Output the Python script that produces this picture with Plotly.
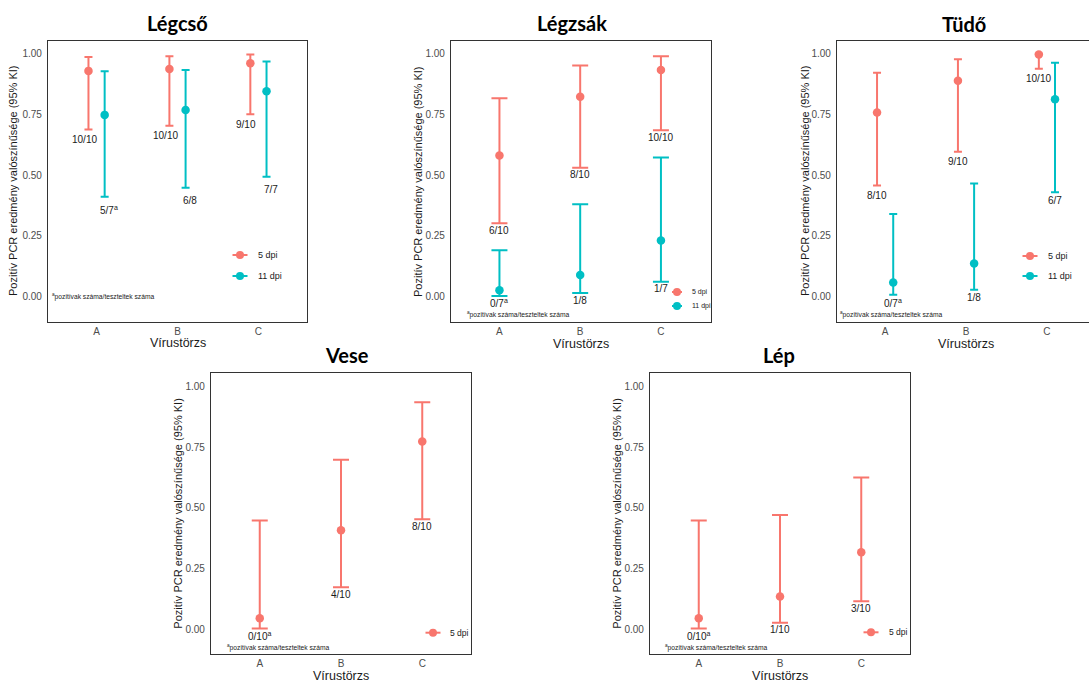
import plotly.graph_objects as go

# ---------------- data ----------------
categories = ["A", "B", "C"]
series_names = ["5 dpi", "11 dpi"]
y_ticks = [0.0, 0.25, 0.5, 0.75, 1.0]
y_title = "Pozitív PCR eredmény valószínűsége (95% KI)"
x_title = "Vírustörzs"
footnote = "<sup>a</sup>pozitívak száma/teszteltek száma"

legcso_5_est = [0.929, 0.937, 0.960]
legcso_5_lo = [0.688, 0.703, 0.751]
legcso_5_hi = [0.986, 0.989, 0.996]
legcso_5_lab = ["10/10", "10/10", "9/10"]
legcso_11_est = [0.748, 0.768, 0.845]
legcso_11_lo = [0.411, 0.448, 0.493]
legcso_11_hi = [0.927, 0.933, 0.968]
legcso_11_lab = ["5/7<sup>a</sup>", "6/8", "7/7"]

legzsak_5_est = [0.581, 0.823, 0.933]
legzsak_5_lo = [0.302, 0.530, 0.685]
legzsak_5_hi = [0.816, 0.951, 0.989]
legzsak_5_lab = ["6/10", "8/10", "10/10"]
legzsak_11_est = [0.027, 0.089, 0.231]
legzsak_11_lo = [0.003, 0.015, 0.062]
legzsak_11_hi = [0.191, 0.380, 0.573]
legzsak_11_lab = ["0/7<sup>a</sup>", "1/8", "1/7"]

tudo_5_est = [0.758, 0.888, 0.996]
tudo_5_lo = [0.458, 0.596, 0.938]
tudo_5_hi = [0.921, 0.977, 1.000]
tudo_5_lab = ["8/10", "9/10", "10/10"]
tudo_11_est = [0.058, 0.137, 0.812]
tudo_11_lo = [0.008, 0.029, 0.430]
tudo_11_hi = [0.340, 0.466, 0.962]
tudo_11_lab = ["0/7<sup>a</sup>", "1/8", "6/7"]

vese_5_est = [0.045, 0.408, 0.773]
vese_5_lo = [0.003, 0.173, 0.453]
vese_5_hi = [0.448, 0.698, 0.935]
vese_5_lab = ["0/10<sup>a</sup>", "4/10", "8/10"]

lep_5_est = [0.045, 0.135, 0.317]
lep_5_lo = [0.003, 0.027, 0.115]
lep_5_hi = [0.448, 0.470, 0.625]
lep_5_lab = ["0/10<sup>a</sup>", "1/10", "3/10"]

# ---------------- styling / layout ----------------
W, H = 1089, 683
COLORS = {"5 dpi": "#F8766D", "11 dpi": "#00BFC4"}
FONT = "Liberation Sans, Arial, sans-serif"
TITLE_FONT = "Lato, Open Sans, sans-serif"


def px(x):
    return x / W


def py(y):
    return 1 - y / H


panels = [
    dict(title="Légcső", frame=(48, 307, 40.5, 321.5), xr=[0.4, 3.6], title_xy=(177, 23),
         dodge=0.1, lab_dodge=0.15, cap=4,
         series=[("5 dpi", legcso_5_est, legcso_5_lo, legcso_5_hi, legcso_5_lab, 10),
                 ("11 dpi", legcso_11_est, legcso_11_lo, legcso_11_hi, legcso_11_lab, 13)],
         legend=dict(cx=240, ys=[255, 276], tx=256, size=9, half=7.5, r=4),
         foot=(50, 297), ytx=13, xt_xy=(178, 343.5)),
    dict(title="Légzsák", frame=(451, 711, 40.5, 321.5), xr=[0.4, 3.62], title_xy=(572, 23),
         dodge=0.0, lab_dodge=0.0, cap=8,
         series=[("5 dpi", legzsak_5_est, legzsak_5_lo, legzsak_5_hi, legzsak_5_lab, 7),
                 ("11 dpi", legzsak_11_est, legzsak_11_lo, legzsak_11_hi, legzsak_11_lab, 7)],
         legend=dict(cx=677, ys=[292, 306], tx=690, size=7, half=5, r=4),
         foot=(465, 314), ytx=418, xt_xy=(581, 344)),
    dict(title="Tüdő", frame=(837, 1089, 40.5, 321.5), xr=[0.405, 3.52], title_xy=(964, 24),
         dodge=0.1, lab_dodge=0.1, cap=4, open_right=True,
         series=[("5 dpi", tudo_5_est, tudo_5_lo, tudo_5_hi, tudo_5_lab, 10),
                 ("11 dpi", tudo_11_est, tudo_11_lo, tudo_11_hi, tudo_11_lab, 8)],
         legend=dict(cx=1030, ys=[256, 276], tx=1046, size=9, half=7.5, r=4),
         foot=(838, 314), ytx=805, xt_xy=(966, 344)),
    dict(title="Vese", frame=(211, 471, 373.3, 654), xr=[0.4, 3.6], title_xy=(347, 355),
         dodge=0.0, lab_dodge=0.0, cap=8,
         series=[("5 dpi", vese_5_est, vese_5_lo, vese_5_hi, vese_5_lab, 7)],
         legend=dict(cx=433, ys=[632.7], tx=448, size=8.5, half=7.5, r=4),
         foot=(225, 647), ytx=178, xt_xy=(341, 676)),
    dict(title="Lép", frame=(650, 910, 373.3, 654), xr=[0.4, 3.6], title_xy=(779, 355),
         dodge=0.0, lab_dodge=0.0, cap=8,
         series=[("5 dpi", lep_5_est, lep_5_lo, lep_5_hi, lep_5_lab, 7)],
         legend=dict(cx=871, ys=[632.3], tx=887, size=8.5, half=7.5, r=4),
         foot=(663, 647), ytx=617, xt_xy=(780, 676)),
]

Y_RANGE = [-0.102, 1.054]

fig = go.Figure()
annotations = []
shapes = []
layout_axes = {}

for i, p in enumerate(panels, start=1):
    xa = "x" if i == 1 else f"x{i}"
    ya = "y" if i == 1 else f"y{i}"
    l, r, t, b = p["frame"]
    n_series = len(p["series"])
    for k, (name, est, lo, hi, labs, gap) in enumerate(p["series"]):
        if n_series == 2:
            off = -p["dodge"] if k == 0 else p["dodge"]
            loff = -p["lab_dodge"] if k == 0 else p["lab_dodge"]
        else:
            off = loff = 0.0
        xs = [j + 1 + off for j in range(len(categories))]
        fig.add_trace(go.Scatter(
            x=xs, y=est, mode="markers", name=name, showlegend=False,
            marker=dict(color=COLORS[name], size=8.5, line=dict(width=0)),
            error_y=dict(type="data", symmetric=False,
                         array=[h - e for h, e in zip(hi, est)],
                         arrayminus=[e - lw for e, lw in zip(est, lo)],
                         color=COLORS[name], thickness=2, width=p["cap"]),
            xaxis=xa, yaxis=ya, hoverinfo="skip"))
        for j, lab in enumerate(labs):
            annotations.append(dict(
                x=j + 1 + loff, y=lo[j], xref=xa, yref=ya, text=lab,
                showarrow=False, yanchor="middle", xanchor="center", yshift=-gap,
                font=dict(family=FONT, size=10, color="#1a1a1a")))

    axis_common = dict(showgrid=False, zeroline=False, showline=True,
                       linecolor="#333333", linewidth=1.2,
                       tickfont=dict(family=FONT, size=10, color="#4d4d4d"))
    layout_axes["xaxis" if i == 1 else f"xaxis{i}"] = dict(
        domain=[px(l), px(r)], range=p["xr"], tickvals=[1, 2, 3], ticktext=categories,
        anchor=ya, mirror=True, ticks="", **axis_common)
    layout_axes["yaxis" if i == 1 else f"yaxis{i}"] = dict(
        domain=[py(b), py(t)], range=Y_RANGE, tickvals=y_ticks,
        ticktext=[f"{v:.2f}" for v in y_ticks], anchor=xa,
        ticks="outside", ticklen=3, tickcolor="rgba(0,0,0,0)",
        mirror=not p.get("open_right", False), **axis_common)

    # panel title
    annotations.append(dict(x=px(p["title_xy"][0]), y=py(p["title_xy"][1]), xref="paper", yref="paper",
                            text=f"<b>{p['title']}</b>", showarrow=False, xanchor="center", yanchor="middle",
                            font=dict(family=TITLE_FONT, size=20, color="#000000")))
    # axis titles
    annotations.append(dict(x=px(p["ytx"]), y=py((t + b) / 2), xref="paper", yref="paper",
                            text=y_title, textangle=-90, showarrow=False, xanchor="center", yanchor="middle",
                            font=dict(family=FONT, size=11, color="#1a1a1a")))
    annotations.append(dict(x=px(p["xt_xy"][0]), y=py(p["xt_xy"][1]), xref="paper", yref="paper",
                            text=x_title, showarrow=False, xanchor="center", yanchor="middle",
                            font=dict(family=FONT, size=12.5, color="#1a1a1a")))
    # footnote
    annotations.append(dict(x=px(p["foot"][0]), y=py(p["foot"][1]), xref="paper", yref="paper",
                            text=footnote, showarrow=False, xanchor="left", yanchor="middle",
                            font=dict(family=FONT, size=6.7, color="#1a1a1a")))
    # legend keys
    lg = p["legend"]
    for k, (name, *_rest) in enumerate(p["series"]):
        cy = lg["ys"][k]
        col = COLORS[name]
        shapes.append(dict(type="line", xref="paper", yref="paper",
                           x0=px(lg["cx"] - lg["half"]), x1=px(lg["cx"] + lg["half"]),
                           y0=py(cy), y1=py(cy), line=dict(color=col, width=2)))
        shapes.append(dict(type="circle", xref="paper", yref="paper",
                           x0=px(lg["cx"] - lg["r"]), x1=px(lg["cx"] + lg["r"]),
                           y0=py(cy + lg["r"]), y1=py(cy - lg["r"]),
                           fillcolor=col, line=dict(color=col, width=0)))
        annotations.append(dict(x=px(lg["tx"]), y=py(cy), xref="paper", yref="paper",
                                text=name, showarrow=False, xanchor="left", yanchor="middle",
                                font=dict(family=FONT, size=lg["size"], color="#1a1a1a")))

fig.update_layout(
    width=W, height=H, margin=dict(l=0, r=0, t=0, b=0),
    paper_bgcolor="white", plot_bgcolor="white", showlegend=False,
    annotations=annotations, shapes=shapes, **layout_axes)

fig.write_html("out.html", config={"displayModeBar": False},
               post_script="document.body.style.margin='0';")
